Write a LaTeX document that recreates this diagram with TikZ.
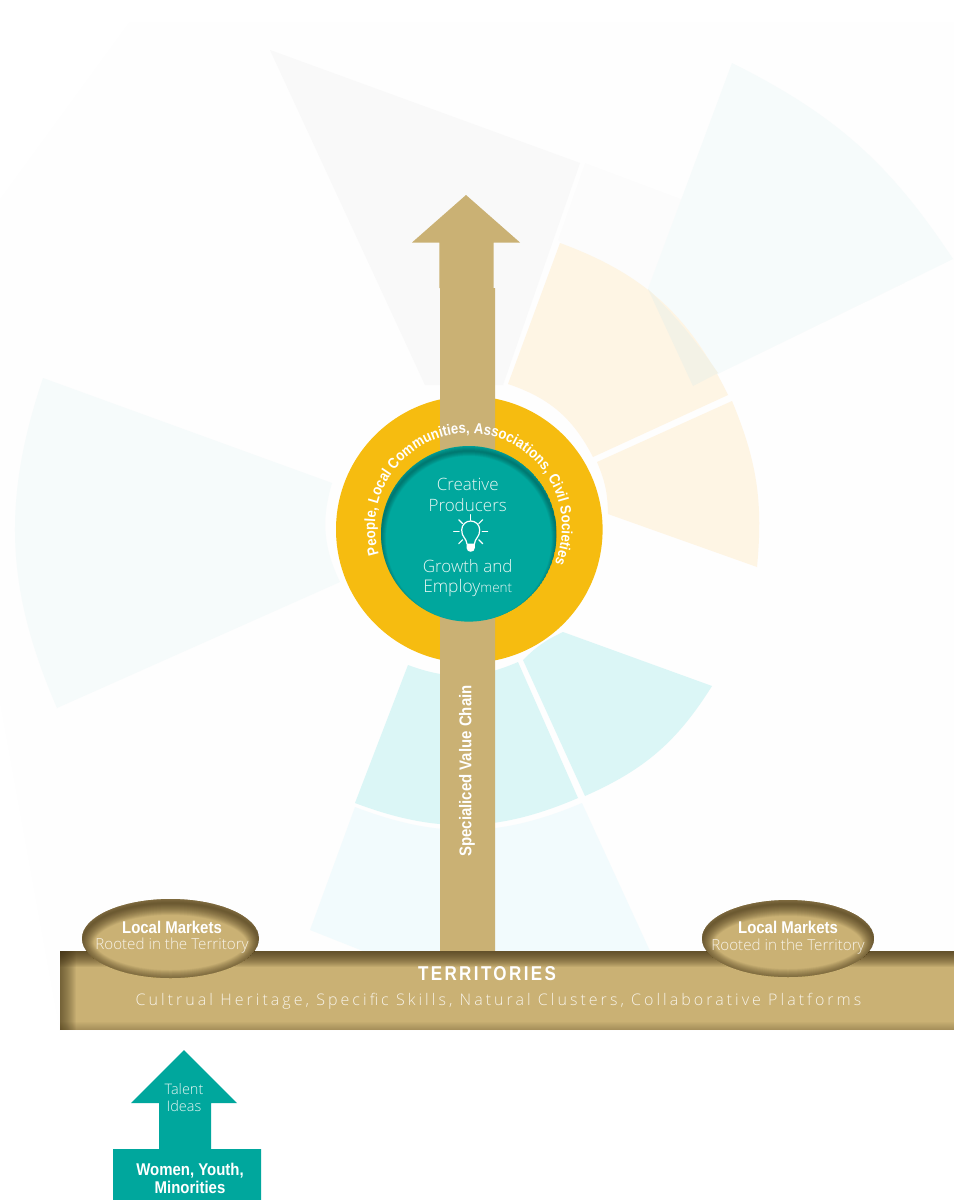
\documentclass[tikz,border=0pt]{standalone}
\usepackage{fontspec}
\usetikzlibrary{decorations.text}
\setmainfont{Liberation Sans}
\newfontfamily\lite{Open Sans Light}
\newfontfamily\litesp[LetterSpace=19]{Open Sans Light}
\newfontfamily\cbf[FakeStretch=0.88]{Liberation Sans Bold}
\newfontfamily\cbfsp[FakeStretch=0.85,LetterSpace=12]{Liberation Sans Bold}
\newcommand{\fsz}[1]{\fontsize{#1}{#1}\selectfont}
\definecolor{tan}{HTML}{CAB174}
\definecolor{gold}{HTML}{F6BC10}
\definecolor{teal2}{HTML}{00A79D}
\definecolor{shadebrown}{HTML}{3E2F14}
\definecolor{shadeteal}{HTML}{00403C}
\definecolor{paleorange}{HTML}{FEF5E4}
\definecolor{overlap}{HTML}{F3F2E6}
\definecolor{paleteal}{HTML}{DBF6F6}
\definecolor{paleblue}{HTML}{F2FBFD}
\definecolor{palegrey}{HTML}{F6FBFB}
\definecolor{softwhite}{HTML}{E8F7F4}
\definecolor{cream}{HTML}{F8F3E8}
\tikzset{
  wedge/.style={fill=#1,draw=none},
  tanshape/.style={fill=tan,draw=none},
  tealshape/.style={fill=teal2,draw=none},
  lbl/.style={inner sep=0pt,align=center,text=white},
  thinlbl/.style={inner sep=0pt,align=center,text=softwhite},
  ray/.style={draw=white,line width=1.1pt,line cap=round},
}
\begin{document}
\begin{tikzpicture}[x=1pt,y=-1pt]
\useasboundingbox (0,0) rectangle (954,1200);
\fill[white] (0,0) rectangle (954,1200);
\fill[fill=black!0.4] (130,22) -- (954,22) -- (954,1030) -- (60,1030) -- (0,700) -- (0,200) -- cycle;
% background wedges
\fill[wedge=black!2.5] (270,50) -- (580,163) -- (503,385) -- (425,385) -- cycle;
\fill[black,opacity=.006] (585,163) -- (905,283) -- (693,386) -- (558,240) -- cycle;
\fill[wedge=palegrey] (732,63) to[bend left=15] (953,259) -- (693,386) -- (648,289) -- cycle;
\fill[wedge=paleorange] (560,243) to[bend left=22] (728,395) -- (593,457) to[bend right=22] (508,384) -- cycle;
\fill[wedge=overlap] (648,289) to[bend left=5] (718,373) -- (693,386) -- cycle;
\fill[wedge=paleorange] (732,401) to[bend left=14] (757,567) -- (608,514) to[bend right=11] (597,462) -- cycle;
\fill[wedge=paleteal] (563,632) -- (712,686) to[bend left=17] (585,796) -- (523,660) to[bend left=10] (563,632) -- cycle;
\fill[wedge=paleteal] (408,665) -- (355,803) to[bend right=22] (578,798) -- (518,662) to[bend left=22] (408,665) -- cycle;
\fill[wedge=paleblue] (355,807) -- (310,930) -- (363,951) -- (650,951) -- (582,803) to[bend left=22] (355,807) -- cycle;
\fill[wedge=palegrey] (43,378) -- (332,483) to[bend right=21] (340,582) -- (57,708) to[bend left=21] (43,378) -- cycle;
% ring, column and upper arrow
\fill[gold] (469.3,529.5) circle[radius=133.3];
\fill[tanshape] (466,195) -- (520,242.5) -- (493.7,242.5) -- (493.7,288) -- (495,288) -- (495,951) -- (440,951) -- (440,288) -- (439.3,288) -- (439.3,242.5) -- (412,242.5) -- cycle;
% inner circle
\begin{scope}
\clip (468.8,533.8) circle[radius=87.8];
\fill[teal2] (468.8,533.8) circle[radius=87.8];
\foreach \w in {1,2,...,10}{
  \draw[shadeteal,opacity=.05,line width=1.0*\w pt] (468.8,538.8) circle[radius=87.8];
}
\end{scope}
% territories bar
\begin{scope}
\clip (60,951) rectangle (954,1030);
\fill[tan] (60,951) rectangle (954,1030);
\foreach \w in {1,2,...,16}{
  \fill[shadebrown,opacity=.075] (60,951) rectangle (954,951+\w);
  \fill[shadebrown,opacity=.05] (60,951) rectangle (60+\w,1030);
}
\foreach \w in {1,2,...,8}{
  \fill[shadebrown,opacity=.03] (60,1030-\w) rectangle (954,1030);
}
\end{scope}
% local market ellipses
\begin{scope}
\clip (170.5,938.5) ellipse[x radius=88.5,y radius=39.5];
\fill[tan] (170.5,938.5) ellipse[x radius=88.5,y radius=39.5];
\foreach \w in {1,2,...,24}{
  \draw[shadebrown,opacity=.038,line width=1.0*\w pt] (170.5,942.5) ellipse[x radius=88.5,y radius=39.5];
}
\end{scope}
\begin{scope}
\clip (788,938.5) ellipse[x radius=86,y radius=38.5];
\fill[tan] (788,938.5) ellipse[x radius=86,y radius=38.5];
\foreach \w in {1,2,...,24}{
  \draw[shadebrown,opacity=.038,line width=1.0*\w pt] (788,942.5) ellipse[x radius=86,y radius=38.5];
}
\end{scope}
% lower teal arrow
\fill[tealshape] (184,1050) -- (237,1103) -- (211,1103) -- (211,1149) -- (261,1149) -- (261,1200) -- (113,1200) -- (113,1149) -- (159,1149) -- (159,1103) -- (131,1103) -- cycle;
% curved text
\path[decorate,decoration={text along path,text align=left,
   text={|\cbf\fsz{15}\color{white}|People, Local Communities, Associations, Civil Societies}}]
   ({468.5+93.5*cos(197)},{527-93.5*sin(197)}) arc[start angle=197,end angle=-45,radius=93.5pt];
% labels
\node[thinlbl] (creative) at (467.7,484) {\lite\fsz{17}Creative};
\node[thinlbl] (producers) at (467.7,505) {\lite\fsz{17}Producers};
\node[thinlbl] (growth) at (467.7,566.5) {\lite\fsz{17}Growth and};
\node[thinlbl] (employ) at (467.7,587.5) {\lite\fsz{17.4}Employ{\fsz{13.5}ment}};
\node[lbl,rotate=90] (chain) at (467,771) {\cbf\fsz{17}Specialiced Value Chain};
\node[lbl] (terr) at (487,973.5) {\cbfsp\fsz{20}TERRITORIES};
\node[inner sep=0pt,text=cream] (cult) at (498.5,1001) {\litesp\fsz{16}Cultrual Heritage, Specific Skills, Natural Clusters, Collaborative Platforms};
\node[lbl] (lm1) at (172,927) {\cbf\fsz{17}Local Markets};
\node[inner sep=0pt,text=cream] (rt1) at (172,946) {\lite\fsz{15.2}Rooted in the Territory};
\node[lbl] (lm2) at (788,927) {\cbf\fsz{17}Local Markets};
\node[inner sep=0pt,text=cream] (rt2) at (788,947) {\lite\fsz{15.2}Rooted in the Territory};
\node[thinlbl] (talent) at (184,1089) {\lite\fsz{14.5}Talent};
\node[thinlbl] (ideas) at (184,1106) {\lite\fsz{14.5}Ideas};
\node[lbl] (women) at (190,1170.5) {\cbf\fsz{17}Women, Youth,};
\node[lbl] (minor) at (190,1187) {\cbf\fsz{17}Minorities};
% light bulb
\draw[white,line width=1.2pt] (467,544) .. controls (466.5,538) and (461.5,537) .. (461.7,530) .. controls (461.7,524.5) and (466,521) .. (470.7,521) .. controls (475.4,521) and (479.7,524.5) .. (479.7,530) .. controls (479.9,537) and (474.9,538) .. (474.4,544);
\fill[white] (466.6,543.5) -- (474.8,543.5) -- (474.8,548) .. controls (474.8,553) and (466.6,553) .. (466.6,548) -- cycle;
\foreach \a in {0,45,90,135,180,225,315}{
  \draw[ray] ({470.7+11.5*cos(\a)},{531.7-11.5*sin(\a)}) -- ({470.7+17*cos(\a)},{531.7-17*sin(\a)});
}
\end{tikzpicture}
\end{document}
